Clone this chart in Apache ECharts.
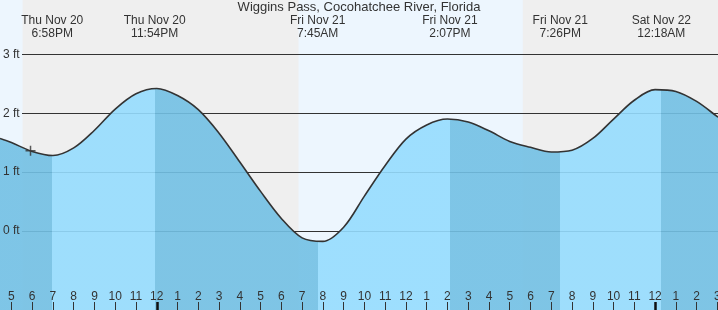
<!DOCTYPE html>
<html><head><meta charset="utf-8">
<script src="https://cdn.jsdelivr.net/npm/echarts@6/dist/echarts.min.js"></script>
<style>html,body{margin:0;padding:0;background:#fff}#c{width:718px;height:310px}</style>
</head><body><div id="c"></div>
<script>
// All times are hours relative to Fri Nov 21 00:00
const chartTitle = "Wiggins Pass, Cocohatchee River, Florida";
const axisStart = -7.55, axisEnd = 27.03;
const feetMin = -1.347, feetMax = 3.925;
const tickHours = [-7,-6,-5,-4,-3,-2,-1,0,1,2,3,4,5,6,7,8,9,10,11,12,13,14,15,16,17,18,19,20,21,22,23,24,25,26,27];
const midnightHours = [0, 24];
const heightTicks = [0, 1, 2, 3];
const eventTimes = [-5.033, -0.1, 7.75, 14.117, 19.433, 24.3];
const eventTypes = ['L', 'H', 'L', 'H', 'L', 'H'];
const eventDays = ['Thu Nov 20', 'Thu Nov 20', 'Fri Nov 21', 'Fri Nov 21', 'Fri Nov 21', 'Sat Nov 22'];
const eventClock = ['6:58PM', '11:54PM', '7:45AM', '2:07PM', '7:26PM', '12:18AM'];
const curveHours = [-7.55, -7, -6, -5, -4, -3, -2, -1, 0, 1, 2, 3, 4, 5, 6, 7, 8, 9, 10, 11, 12, 13, 14, 15, 16, 17, 18, 19, 20, 21, 22, 23, 24, 25, 26, 27, 27.03];
const curveFeet  = [1.57, 1.50, 1.35, 1.28, 1.41, 1.71, 2.07, 2.33, 2.42, 2.30, 2.06, 1.66, 1.17, 0.67, 0.21, -0.12, -0.18, 0.06, 0.59, 1.11, 1.56, 1.80, 1.90, 1.85, 1.70, 1.52, 1.42, 1.34, 1.37, 1.57, 1.90, 2.22, 2.40, 2.37, 2.20, 1.94, 1.93];
const nightStart = [-6.46, 17.63];
const nightEnd = [6.83, 27.03];
const nowHour = -6.08, nowFeet = 1.36;

const FONT = "'Liberation Sans', Arial, sans-serif";
const DARK = '#72c0e4', LIGHT = '#95dcfe';
const curve = curveHours.map((h, i) => [h, curveFeet[i]]);
const pieces = [{ lt: eventTimes[0], color: eventTypes[0] === 'L' ? DARK : LIGHT }];
eventTimes.forEach((t, i) => {
  const p = { gte: t, color: eventTypes[i] === 'L' ? LIGHT : DARK };
  if (i + 1 < eventTimes.length) p.lt = eventTimes[i + 1];
  pieces.push(p);
});
const hourLabel = v => { const h = ((Math.round(v) % 12) + 12) % 12; return String(h === 0 ? 12 : h); };

const chart = echarts.init(document.getElementById('c'), null, { renderer: 'canvas' });
chart.setOption({
  animation: false,
  backgroundColor: '#edf6fe',
  textStyle: { fontFamily: FONT },
  title: { text: chartTitle, left: 'center', top: 0, padding: [1, 0, 0, 0], z: 20,
    textStyle: { fontSize: 13, fontWeight: 'normal', color: '#333', fontFamily: FONT } },
  grid: [
    { left: 0, right: 0, top: 0, bottom: 0, containLabel: false, outerBoundsMode: 'none' },
    { left: 22, right: 0, top: 0, bottom: 0, containLabel: false, outerBoundsMode: 'none' }
  ],
  visualMap: { show: false, type: 'piecewise', dimension: 0, seriesIndex: 1, pieces: pieces },
  xAxis: [
    { gridIndex: 0, type: 'value', min: axisStart, max: axisEnd, position: 'bottom', z: 10,
      axisLine: { show: false, onZero: false }, splitLine: { show: false },
      axisTick: { inside: true, length: 8, customValues: tickHours, lineStyle: { color: '#333', width: 1 } },
      axisLabel: { inside: true, margin: 7, customValues: tickHours, formatter: hourLabel, color: '#333', fontSize: 12, fontFamily: FONT } },
    { gridIndex: 0, type: 'value', min: axisStart, max: axisEnd, position: 'bottom', z: 11,
      axisLine: { show: false, onZero: false }, splitLine: { show: false }, axisLabel: { show: false },
      axisTick: { inside: true, length: 8, customValues: midnightHours, lineStyle: { color: '#111', width: 2.5 } } },
    { gridIndex: 0, type: 'value', min: axisStart, max: axisEnd, position: 'top', z: 10,
      axisLine: { show: false, onZero: false }, splitLine: { show: false }, axisTick: { show: false },
      axisLabel: { inside: true, margin: 14, customValues: eventTimes, color: '#333', fontSize: 12, lineHeight: 13, fontFamily: FONT,
        formatter: v => { const i = eventTimes.findIndex(t => Math.abs(t - v) < 1e-6); return i < 0 ? '' : eventDays[i] + '\n' + eventClock[i]; } } },
    { gridIndex: 1, type: 'value', min: axisStart, max: axisEnd, show: false, axisLine: { onZero: false } }
  ],
  yAxis: [
    { gridIndex: 0, type: 'value', min: feetMin, max: feetMax, z: 10,
      axisLine: { show: false, onZero: false }, axisTick: { show: false, customValues: heightTicks }, splitLine: { show: false },
      axisLabel: { inside: true, margin: 3, customValues: heightTicks, formatter: '{value} ft', color: '#333', fontSize: 12, fontFamily: FONT } },
    { gridIndex: 1, type: 'value', min: feetMin, max: feetMax, z: 1,
      axisLine: { show: false, onZero: false }, axisLabel: { show: false },
      axisTick: { show: false, customValues: heightTicks },
      splitLine: { show: true, lineStyle: { color: '#333', width: 1 } } }
  ],
  series: [
    { type: 'line', xAxisIndex: 0, yAxisIndex: 0, data: [], silent: true,
      markArea: { silent: true, z: 0, itemStyle: { color: '#efefef' },
        data: nightStart.map((s, i) => [{ xAxis: s }, { xAxis: nightEnd[i] }]) } },
    { type: 'line', xAxisIndex: 0, yAxisIndex: 0, data: curve, smooth: 0.33, symbol: 'none', silent: true, z: 3,
      lineStyle: { width: 0 }, areaStyle: { opacity: 0.9, origin: 'start' } },
    { type: 'line', xAxisIndex: 0, yAxisIndex: 0, data: curve, smooth: 0.33, symbol: 'none', silent: true, z: 4,
      lineStyle: { color: '#333', width: 1.6 } },
    { type: 'scatter', xAxisIndex: 0, yAxisIndex: 0, data: [[nowHour, nowFeet]], silent: true, z: 5,
      symbol: 'path://M0,5L10,5M5,0L5,10', symbolSize: 10,
      itemStyle: { color: 'rgba(0,0,0,0)', borderColor: '#333', borderWidth: 1.5 } }
  ]
});
</script></body></html>
